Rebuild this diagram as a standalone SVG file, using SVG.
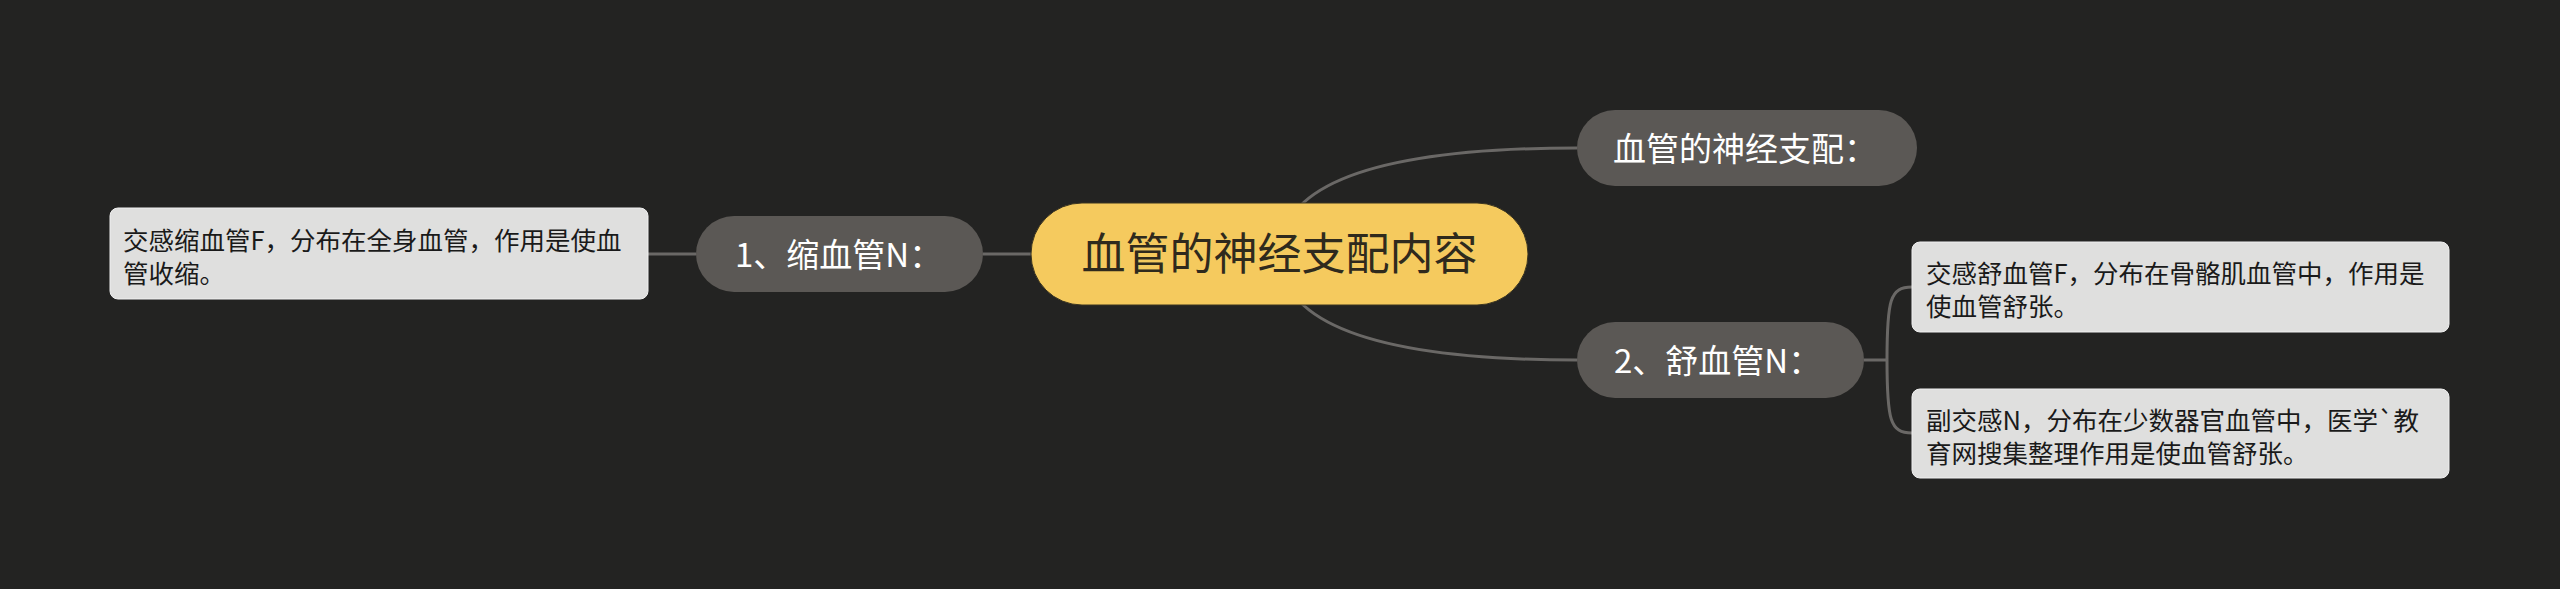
<svg xmlns="http://www.w3.org/2000/svg" width="2560" height="589" viewBox="0 0 2560 589">
<style>
.bg{fill:#232322}
.edge{fill:none;stroke:#6a6866;stroke-width:3}
.root rect{fill:#f5ca5e;stroke:#3a3420;stroke-width:1}
.root text{font-family:"Noto Sans CJK SC","Noto Sans",sans-serif;font-size:44px;fill:#2f2a1d}
.topic rect{fill:#5b5855}
.topic text{font-family:"Noto Sans CJK SC","Noto Sans",sans-serif;font-size:33px;fill:#ffffff}
.leaf rect{fill:#dfdfde;stroke:#f0f0f0;stroke-width:1}
.leaf text{font-family:"Noto Sans CJK SC","Noto Sans",sans-serif;font-size:25.5px;fill:#1a1a1a}
</style>
<rect class="bg" x="0" y="0" width="2560" height="589"/>
<g id="connectors">
<path class="edge" d="M1280 254 Q1280 148 1577 148"/>
<path class="edge" d="M1280 254 Q1280 360 1577 360"/>
<path class="edge" d="M983 254 L1031 254"/>
<path class="edge" d="M648 254 L696 254"/>
<path class="edge" d="M1864 360 L1887 360"/>
<path class="edge" d="M1887 360 C1887 300 1890 287 1912 287"/>
<path class="edge" d="M1887 360 C1887 420 1890 433 1912 433"/>
</g>
<g id="root" class="root">
<rect x="1031" y="203" width="497" height="102" rx="51"/>
<text x="1279.5" y="270" text-anchor="middle">血管的神经支配内容</text>
</g>
<g id="n-top" class="topic">
<rect x="1577" y="110" width="340" height="76" rx="38"/>
<text x="1613" y="161">血管的神经支配：</text>
</g>
<g id="n-shu" class="topic">
<rect x="1577" y="322" width="287" height="76" rx="38"/>
<text x="1614" y="373">2、舒血管N：</text>
</g>
<g id="n-suo" class="topic">
<rect x="696" y="216" width="287" height="76" rx="38"/>
<text x="735" y="267">1、缩血管N：</text>
</g>
<g id="leaf-suo" class="leaf">
<rect x="110" y="208" width="538" height="91" rx="8"/>
<text x="123" y="250">交感缩血管F，分布在全身血管，作用是使血</text>
<text x="123" y="283">管收缩。</text>
</g>
<g id="leaf-shu1" class="leaf">
<rect x="1912" y="242" width="537" height="90" rx="8"/>
<text x="1926" y="283">交感舒血管F，分布在骨骼肌血管中，作用是</text>
<text x="1926" y="316">使血管舒张。</text>
</g>
<g id="leaf-shu2" class="leaf">
<rect x="1912" y="389" width="537" height="89" rx="8"/>
<text x="1926" y="430">副交感N，分布在少数器官血管中，医学`教</text>
<text x="1926" y="463">育网搜集整理作用是使血管舒张。</text>
</g>
</svg>
